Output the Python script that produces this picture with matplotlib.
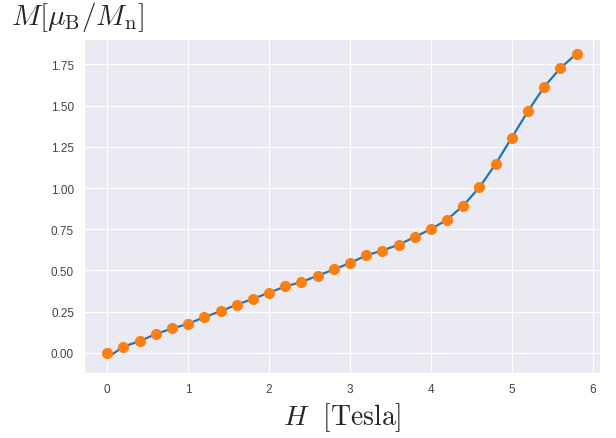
import matplotlib
matplotlib.use("Agg")
import matplotlib.pyplot as plt
import seaborn as sns

# field values (Tesla) and magnetization
field = [0.0, 0.2, 0.4, 0.6, 0.8, 1.0, 1.2, 1.4, 1.6, 1.8, 2.0, 2.2, 2.4, 2.6, 2.8,
         3.0, 3.2, 3.4, 3.6, 3.8, 4.0, 4.2, 4.4, 4.6, 4.8, 5.0, 5.2, 5.4, 5.6, 5.8]
magnet = [0.0, 0.038, 0.071, 0.114, 0.148, 0.176, 0.217, 0.253, 0.292, 0.328,
          0.365, 0.403, 0.43, 0.468, 0.506, 0.545, 0.591, 0.621, 0.656, 0.703,
          0.751, 0.808, 0.893, 1.004, 1.146, 1.306, 1.466, 1.614, 1.727, 1.815]
# the curve starts a little below the first dot
curve = [-0.03] + magnet[1:]

sns.set_style("darkgrid")
plt.rcParams["mathtext.fontset"] = "cm"
plt.rcParams["font.family"] = ["Liberation Sans", "DejaVu Sans"]

fig = plt.figure(figsize=(6.16, 4.39), dpi=100)
ax = fig.add_axes([0.136, 0.148, 0.838, 0.762])

ax.plot(field, curve, color="C0", lw=1.6)
ax.plot(field, magnet, "o", color="C1", ms=7)

ax.set_yticks([0.0, 0.25, 0.5, 0.75, 1.0, 1.25, 1.5, 1.75])
ax.set_yticklabels(["0.00", "0.25", "0.50", "0.75", "1.00", "1.25", "1.50", "1.75"])
ax.tick_params(labelsize=8.5, colors="#444444")

ax.set_xlabel(r"$H\ \ \mathrm{[Tesla]}$", fontsize=20, labelpad=4)
fig.text(0.018, 0.943, r"$M[\mu_{\mathrm{B}}/M_{\mathrm{n}}]$", fontsize=21)

fig.savefig("out.png", dpi=100)
